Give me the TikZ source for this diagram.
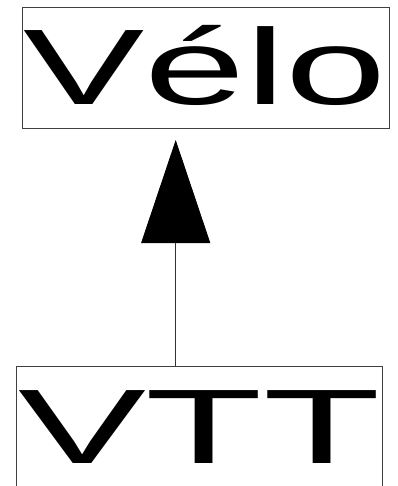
\documentclass[tikz,border=0pt]{standalone}
\usepackage{fontspec}
\setmainfont{Liberation Sans}
\usetikzlibrary{arrows.meta}
\begin{document}
\begin{tikzpicture}[x=1pt,y=-1pt,
  box/.style={draw=black!75,line width=0.8pt,inner sep=0,minimum width=#1},
  label/.style={anchor=base west,inner sep=0,outer sep=0},
  conn/.style={line width=0.8pt,draw=black!80,-{Triangle[length=103pt,width=69pt,color=black,fill=black]}}]
\useasboundingbox (0,0) rectangle (397,486);
\clip (0,0) rectangle (397,486);
\fill[white] (0,0) rectangle (397,486);
\node[box=366.5pt,minimum height=121pt] (velo) at (205.75,67.5) {};
\node[box=366pt,minimum height=170pt] (vtt) at (199,451) {};
\node[label] (tvelo) at (23,105) {\fontsize{107.5}{110}\selectfont\scalebox{1.69}[1]{Vélo}};
\node[label] (tvtt) at (18,463) {\fontsize{106}{110}\selectfont\scalebox{1.81}[1]{VTT}};
\coordinate (tip) at (175.7,140);
\draw[conn] (vtt.north -| tip) -- (tip);
\end{tikzpicture}
\end{document}
